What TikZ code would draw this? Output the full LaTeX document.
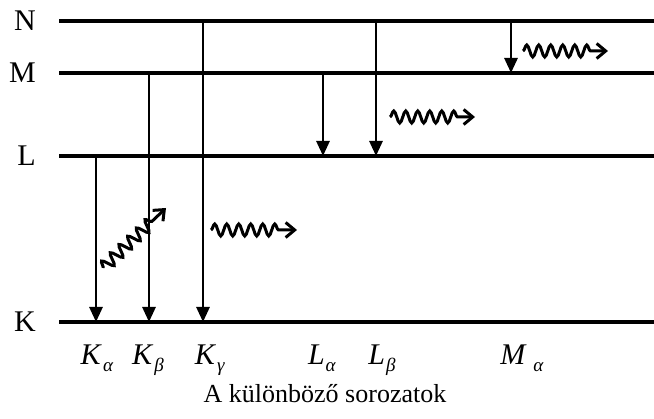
\documentclass[tikz,border=0pt]{standalone}
\usepackage{fontspec}
\setmainfont{Liberation Serif}
\usetikzlibrary{arrows.meta,decorations.pathmorphing}
\newcommand{\series}[2]{\textit{#1}\kern1pt\raisebox{-7pt}{\fontsize{19}{20}\selectfont\textit{#2}}}

\begin{document}
\begin{tikzpicture}[x=1pt,y=-1pt,>=Triangle,
    level/.style={line width=3.4pt},
    trans/.style={line width=2.8pt,-{Triangle[length=15pt,width=13pt]}},
    photon/.style={line width=3pt,decorate,
      decoration={snake,amplitude=6pt,segment length=12pt,post length=17pt},
      -{Straight Barb[length=9pt,width=15pt]}},
    shell/.style={anchor=base east,inner sep=0pt,font=\fontsize{30}{32}\selectfont},
    tag/.style={anchor=base,inner sep=0pt,font=\fontsize{30}{32}\selectfont}]
  \useasboundingbox (0,0) rectangle (654,419);
  % energy levels
  \foreach \n/\y in {N/21,M/73,L/156,K/322}{
    \draw[level] (59,\y) coordinate (\n w) -- (654,\y) coordinate (\n e);
    \node[shell] (lab\n) at (36,\y+10) {\n};
  }
  % transitions
  \foreach \x/\a/\b in {96/L/K,149/M/K,203/N/K,323/M/L,376/N/L,511/N/M}{
    \draw[trans] (\x,0 |- \a w) -- (\x,0 |- \b w);
  }
  % emitted radiation
  \coordinate (p1s) at (103,268); \coordinate (p1e) at (166,208);
  \coordinate (p2s) at (211,230); \coordinate (p2e) at (297,230);
  \coordinate (p3s) at (390,117); \coordinate (p3e) at (475,117);
  \coordinate (p4s) at (523,51);  \coordinate (p4e) at (608,51);
  \foreach \i in {1,...,4}{
    \draw[photon] (p\i s) -- (p\i e);
  }
  % series names
  \foreach \x/\m/\s/\nm in {97/K/α/Ka,148/K/β/Kb,210/K/γ/Kg,322/L/α/La,382/L/β/Lb,522/M\kern7pt/α/Ma}{
    \node[tag] (\nm) at (\x,365) {\series{\m}{\s}};
  }
  \node[anchor=base,inner sep=0pt,font=\fontsize{26}{30}\selectfont] (title) at (325,403)
    {A különböző sorozatok};
\end{tikzpicture}
\end{document}
